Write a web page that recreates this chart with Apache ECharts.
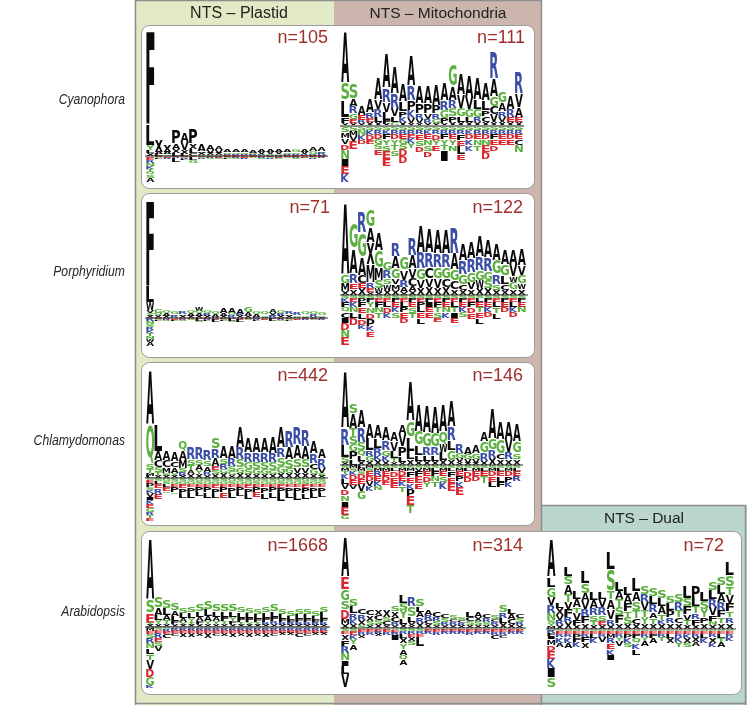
<!DOCTYPE html>
<html><head><meta charset="utf-8">
<script src="https://cdn.jsdelivr.net/npm/echarts@6/dist/echarts.min.js"></script>
<style>html,body{margin:0;padding:0;background:#fff}#c{width:747px;height:705px}</style>
</head><body><div id="c"></div>
<script>
// ---------- DATA (letter + stack height; up stacks listed top→baseline, down stacks baseline→bottom) ----------
const columnTitles = ['NTS – Plastid', 'NTS – Mitochondria', 'NTS – Dual'];
const organisms = ['Cyanophora', 'Porphyridium', 'Chlamydomonas', 'Arabidopsis'];
const sampleSizes = ['n=105', 'n=111', 'n=71', 'n=122', 'n=442', 'n=146', 'n=1668', 'n=314', 'n=72'];

const cyanoPlastidUp = ["F96 L20 Y5 L3 X3","X12 A2 L2","X7 A2 S2","P13 A6 X4 L3","A9 V8 X4 L2","P15 X6 L4 C3","A7 C2 X2 S1","A6 V3 X2 S1","A4 V3 X2 S1","A3 S2 R1 E1","A3 G2 R1 E1","A3 S2 R1 E1","A3 S1 R1 E1","A3 V2 R1 S1","A3 V2 S1 R1","A3 V2 G1 R1","A3 S2 R1 E1","G3 S2 R1 E1","A3 V2 R1 E1","A4 G3 R1 E1","A4 S2 R2 E1"];
const cyanoPlastidDown = ["S2 E2 R3 N3 K3 T3 Q3 S3 A4","E1 S1 L1","S1 E1 R1","E1 R1 L4","E1 S1 R1 L1","E1 L3 G3","E1 S1 R1","E1 R1 S1","R1 E1 S1","E1 S1 L1","E1 R1 S1","S1 E1 R1","E1 S1","E1 R1 S1","E1 S1 R1","R1 E1 S1","E1 S1","E1 R1 S1","S1 E1","E1 S1 R1","E1 R1"];

const cyanoMitoUp = ["A52 S17 L17 F6 X3","S16 A7 R7 G6 E4 X3","A10 E5 R3 X3","A13 R6 E4 X4","A22 V10 R8 L5 X4","A35 R14 V10 L8 F4 X2","A28 R15 V8 L6 G4","A18 L10 P6 K5 X4","A30 R15 P10 K8 V5 X3","A18 P10 R6 V4 X3","A18 P10 V6 R4 X3","A20 P8 R6 G4 X3","A18 R10 G8 P5 X3","G22 A14 R8 S8 P6 X4","A20 V14 G8 L6 X4","A22 V12 G8 L5 X4","A22 L10 G8 R5 X4","A18 L10 P6 C6 X4","R28 A18 G10 C8 V8 X4","G12 A8 R6 V5 X4","A14 R8 E5 X4","R22 V14 A10 E5 X4"];
const cyanoMitoDown = ["S6 M6 V6 D6 N9 I7 E8 K8","S5 M5 V5 E8","S4 N5 K5 D4","S4 K5 D5 E4","S4 R4 D5 G5 S5 E6","S4 K4 F5 Y6 S6 E8 E7","S4 R4 D5 Y6 T5 S6","S4 R4 E5 G5 S5 D7 D7","S4 R4 E4 K5 Y5","S4 R4 E6 S6 D6","S4 K4 E5 N6 S6 D6","S4 R4 D6 Y5 E6","S4 R4 F5 Y6 T5 I6 I5","S4 R4 E5 Y6 N6","S4 R4 F6 E6 L8 E6","S4 K4 D5 K6 K6","S4 R4 E5 N6 T6","S4 R4 D5 N6 E7 D7","S4 R4 F5 E6 D6","S4 R4 E5 E6","S4 R4 D5 E6","S4 R4 E5 C6 N7"];

const porphPlastidUp = ["F88 L16 W8 V3 Y3 X2","G4 Q3 X2","Q3 A2 X2","G3 Q2 R2","R3 Q2 X2","Q3 A2 X2","W4 Q3 A2 X2","Q3 R2 X2","Q3 A2 R1","A5 A3 X2","A5 Q3 R2","A5 R2 X2","G5 A4 X2","Q3 A2 R1","Q3 G2 X1","A4 X3 R2","Q3 R2 X2","R3 Q2 X2","R3 Q2 R1","Q3 G2 X1","Q3 R2 X1","G3 Q2 X1"];
const porphPlastidDown = ["R3 N3 S3 R3 K3 T3 N3 W3 A4","E1 S1 L1","E1 R1 S1","S1 E1 L1","E1 R1 S1","E1 S1","E1 L2 S1","E1 R1 L1","R1 E1 L2","E1 S1 L1","E1 L2 S1","R1 E1 L2","E1 S1","E1 R1 L1","S1 E1","E1 L2","E1 R1 S1","E1 S1 L1","S1 E1","E1 R1","E1 S1","E1 R1"];

const porphMitoUp = ["A73 G8 M8 X4","G27 A25 R10 E6 X6","R20 G25 A18 C8 E5 X7","G18 A15 X22 M18 R6 E4 X3","A18 G18 M12 S8 W5 X2","G8 R8 S6 W6 X5","R14 A12 G10 V6 M6 X5","G13 V10 R7 A5 X3","R18 A13 V10 C8 A5 X4","A28 R16 G12 V8 X7","A25 R15 C12 V8 X8","A24 R14 G12 V9 X7","A24 R14 G11 C9 X8","R26 A16 G12 C8 X6","A16 R14 G10 C6 X5","A16 R14 G10 V7 X6","A20 R14 G10 W8 X7","A18 R14 G9 S8 X7","A16 G14 R10 S6 X5","A15 G12 L8 C6 X5","A15 V12 W6 G7 X6","A16 V10 G8 W6 X6"];
const porphMitoDown = ["S3 K4 F5 Q5 C6 I5 D7 N7 E8","S3 E4 K5 N5 L6 D7","S3 P4 F5 E6 L6 D6 K4","S3 F4 Y5 N6 D6 P7 K5 E6","S3 E4 F5 N5 T6","S3 E4 L5 D6 K5","S3 F4 E5 K5 S6","S3 E4 L5 P5 E6 D5","S3 F4 E5 S6 T5","S3 E4 P5 L5 E6 L6","S3 F4 I5 E5 E6","S3 E4 F5 T5 S6 E4","S3 F4 E5 N5 K6","S3 E4 L5 T5 I6 E5","S3 F4 E5 K5 S5","S3 E4 F5 D6 E6","S3 L4 E5 T5 E6 L6","S3 F4 E5 K5 D5","S3 E4 L5 T6 L6","S3 F4 E5 D5","S3 E4 L5 K5 D5","S3 F4 E5 N5"];

const chlamyPlastidUp = ["A55 Q40 S5 T4 M3 L2","L27 A9 C7 S5 T3 X3","A9 C7 M6 S3 X2","A9 C6 A6 Y3 X2","Q10 A9 M8 S4 R4 X2","R12 S6 T5 A4 X4","R12 S6 A5 Y4 X4","R11 S6 A6 R3 X3","S12 R9 A8 E4 S4 X4","A12 S6 R5 G4 X5","A12 R8 S5 G4 X3","A20 R12 S8 G6 X5","A15 R10 G7 S5 X4","A15 R10 S7 G5 X4","A15 R10 S7 G5 X4","A16 R9 S8 G4 X4","A20 R10 S9 G7 X5","R16 A12 S9 G5 X5","R18 A14 S9 V6 X5","R17 A13 S8 V6 X5","A12 R10 C6 G5 X4","A10 R10 V5 S3 X2"];
const chlamyPlastidDown = ["S2 E3 P4 S3 K3 V4 I3 K4 E4 G4 R3 T3 E3","S3 L3 E4 R6 E5","G3 S3 L3 E4 S2","S3 G3 E3 P5 Q2","S3 G3 E4 P6 L4","S3 G3 E3 P6 L5","G3 S3 E3 P5 L4","S3 G3 E3 P5 L6","S3 G3 E4 P6 L4","S3 G3 E3 P5 E6","G3 S3 E3 P6 L5","S3 G3 E3 P5 L4","S3 G3 E4 P6 L5","G3 S3 E3 P5 E5","S3 G3 E3 P6 L6","S3 G3 E3 P5 L6","G3 S3 E4 P5 L8","S3 G3 E3 P6 L5","S3 G3 E3 P6 L7","G3 S3 E4 P5 L6","S3 G3 E3 P6 L5","S3 G3 E3 P6 L4"];

const chlamyMitoUp = ["A58 R17 L12 S5 X3","S10 A15 T8 S8 G7 P8 L6","A18 R15 S8 Q6 L5 X4","A15 L12 R6 G5 X4","A14 L10 R7 K5 X5","A14 R10 G6 K5 X4","A10 V10 L7 T4 X3","A10 V12 P10 L6 X3","A40 G16 L14 L8 X6","A28 G14 L10 L6 X4","A28 G15 R8 L6 X4","A27 G14 R8 L6 X4","A28 Q13 W8 L8 X5","A26 R14 L10 G10 X5","R10 G5 V4 X3","A7 G5 V4 X2","A8 G6 V4 X2","A10 G12 R8 X4","A30 G12 R8 X7","A18 G15 C5 X6","A18 V13 R7 X6","A18 G12 S6 X6"];
const chlamyMitoDown = ["S3 M3 T3 K5 L5 V5 D6 N6 I6 E8 G4","M3 S3 K4 D5 E5 V4","L3 M3 S3 D5 E5 V7 G8","M3 S3 E5 D5 V5 K5","S3 M3 R5 E5 K5 N4","S3 M3 E5 D5 E4","S3 L3 D6 E6 E5","S3 M3 D5 E5 K5 T6","S3 M3 F6 E6 K6 P7 E9 T8","S3 V3 F5 E7 E6","S3 M3 E5 D6 Y5","S3 L3 F5 N5 T6","S3 M3 E5 S6 K7","S3 L3 F6 E6 E8","S3 M3 E5 P5 K6 E8","S3 L3 D6 D5","S3 M3 E5 D5","S3 L3 E5 T7","S3 M3 D5 E6 L5","S3 L3 E5 L6 F5","S3 M3 D5 P6 K5","S3 L3 E5 R5"];

const arabPlastidUp = ["A62 S13 E10 T2 X2","S12 A7 L5 Y4 X3","S9 L7 A5 T4 X3","S7 A6 L5 F3 X3","S5 L5 A4 Y3 X2","S6 L6 Y4 T3 X2","S7 L6 A4 F3 X3","S8 L7 A5 Y3 X3","S7 L6 A4 Y3 X3","S7 L6 F4 T3 X3","S7 L6 Y4 F3 X3","S6 L6 F4 T3 X2","S5 L5 F4 Y3 X2","S5 L5 F3 T3 X2","S6 L6 F4 R3 X2","S7 L6 F4 R3 X3","S5 L5 F3 R3 X2","S5 L4 F3 R2 X2","S5 L5 F3 R3 X2","S5 L5 F3 R3 X2","S5 L4 F3 R2 X2","S6 L7 F3 R3 X2"];
const arabPlastidDown = ["M4 E3 S4 R5 N5 L6 T6 V9 D8 G8 K3","S3 E3 R5 E4 S4 V5","S2 R3 E2 C4","S2 R2 E2 C3","S2 R2 E2 X4","S2 R2 E2 X4","S2 R2 E2 X3","S2 R2 E2 X5","S2 R2 E2 C3","S2 R2 E2 X3","S2 R2 E2 X4","S2 R2 E2 X3","S2 R2 E2 X4","S2 R2 E2 X3","S2 R2 E2 X4","S2 R2 E2 C3","S2 R2 E2 X2","S2 R2 E2 X2","S2 R2 E2 C4","S2 R2 E2 C3","S2 R2 E2 X2","S2 R2 E2 X2"];

const arabMitoUp = ["A40 E12 G12 S8 D10 M5 X4","S7 L7 R6 K5 X4","C5 R6 X5 S3","C5 X6 S4 X3","X6 C5 S4 X4","X7 S4 C4 X3","S6 X6 C5 R3 X3","L8 S7 Y8 L6 X4","R9 S10 L6 V3 X3","S7 L6 A5 R6 X5","A6 R5 C4 X4","C5 R4 S4 X3","C4 S4 R3 X3","S4 C3 R3 X3","S3 C3 R3 X2","L5 C4 S4 X3","A5 X4 S4 X3","C4 R4 S3 X3","S4 C3 R3 X3","S7 R6 L5 X5","L5 A5 C5 X4","C4 S4 R3 X3"];
const arabMitoDown = ["S3 E3 X6 F6 R7 N7 I6 L8 V13","S3 E4 K4 Y5 A6","S2 E2 R3 X3","S2 E2 R3","S2 E2 R2 X2","S2 E2 R3","S2 E3 R2 I5","S3 R3 L4 X5 Y6 A6 Q5 A5","S3 R3 E3 X4 S4","S3 R3 E3 L9","S2 E2 R2","S2 E2 R3","S2 E2 R2","S2 E2 R2","S2 E2 R2","S2 E2 R3","S2 E2 R2","S2 E2 R2","S2 E2 R3 C4","S2 E2 R3 C3","S2 E2 R2","S2 E2 R2"];

const arabDualUp = ["A39 L10 G10 V8 R8 N7 S3 Y3 M3","L6 X7 V5 R5 X4","L10 S8 A10 T8 V7 F8 R5 X7","L8 A8 T6 V7 F5 X4","L12 S10 A8 V8 R7 F7 X6","L8 A8 R7 S6 T4 X4","L7 V8 R8 S6 E4 X4","L18 S22 T8 A10 V10 R6 X4","L10 A8 T8 S8 F8 X6","L8 A8 F8 T6 S7 X5","L14 A10 S9 T8 C6 X5","S8 R8 V8 T7 Y7 X5","S9 L8 R8 A6 T6 X5","S9 L8 A8 T6 K4 X5","S7 L7 P7 R6 X6","S8 R8 T7 C6 X6","L12 S8 F8 V6 T5 X4","P12 L8 T7 R6 F6 X4","L9 S8 Y8 P6 X6","S9 L9 R8 V8 F6 N4 X4","S9 L9 A8 R8 F7 T6 X6","L14 S12 T8 V8 F8 T6 R6 X6"];
const arabDualDown = ["S2 R2 F3 I3 M6 D6 E8 K9 I9 S10","S2 E3 R3 K6 A4","S2 E3 R3 K6 A5","S2 E3 P4 F4 K5","S2 E3 R3 F5 X6","S2 E3 L4 K5","S2 E3 R3 V5","S2 E3 M4 R5 E6 K6 I5","S2 E3 R3 Y4 V5","S2 E3 P4 K5 S4","S2 E3 F4 Q5 K6 L6","S2 E3 R3 Y4 A5","S2 E3 F4 A5","S2 E3 R3 T4","S2 E3 L4 X5","S2 E3 R3 K5 Y5","S2 E3 K4 X5 S4","S2 E3 R3 X5 A4","S2 E3 L4 K5","S2 E3 R3 X6 K4","S2 E3 L4 T4 A5","S2 E3 R3 K4"];

// ---------- LAYOUT ----------
const C_GREEN = '#e1e9c5', C_BROWN = '#cbb5ac', C_TEAL = '#bad6ce', C_FRAME = '#8e8e8e';
const C_BLACK = '#0a0a0a', C_GR = '#5cb03f', C_BL = '#3b4ea6', C_RD = '#d8272e';
function colorOf(ch){
  if ('GSTYQN'.indexOf(ch) >= 0) return C_GR;
  if ('KRH'.indexOf(ch) >= 0) return C_BL;
  if ('DE'.indexOf(ch) >= 0) return C_RD;
  return C_BLACK;
}
// box: [x0, x1, top, baseline, bottom]
const logos = [
  {up: cyanoPlastidUp,  down: cyanoPlastidDown,  box: [146, 326, 28, 156, 183], line: ['#222', 1.2]},
  {up: cyanoMitoUp,     down: cyanoMitoDown,     box: [341, 523, 30, 126, 182], line: ['#8a8a8a', 2]},
  {up: porphPlastidUp,  down: porphPlastidDown,  box: [146, 326, 198, 318, 350], line: ['#333', 1.2]},
  {up: porphMitoUp,     down: porphMitoDown,     box: [341, 526, 203, 295, 351], line: ['#333', 1.2]},
  {up: chlamyPlastidUp, down: chlamyPlastidDown, box: [146, 326, 370, 478, 521], line: ['#333', 1.2]},
  {up: chlamyMitoUp,    down: chlamyMitoDown,    box: [341, 521, 370, 465, 519], line: ['#333', 1.2]},
  {up: arabPlastidUp,   down: arabPlastidDown,   box: [146, 328, 537, 627, 688], line: ['#555', 1.5]},
  {up: arabMitoUp,      down: arabMitoDown,      box: [341, 524, 537, 628, 687], line: ['#333', 1.2]},
  {up: arabDualUp,      down: arabDualDown,      box: [547, 734, 538, 629, 687], line: ['#333', 1.2]}
];

const FONT = 'bold 40px "DejaVu Sans", "Liberation Sans", Arial, sans-serif';
const mctx = document.createElement('canvas').getContext('2d');
mctx.font = FONT; mctx.textAlign = 'center'; mctx.textBaseline = 'middle';
const metr = {};
function metric(ch){
  if (!metr[ch]) {
    const m = mctx.measureText(ch);
    metr[ch] = {l: m.actualBoundingBoxLeft, r: m.actualBoundingBoxRight, a: m.actualBoundingBoxAscent, d: m.actualBoundingBoxDescent};
  }
  return metr[ch];
}
function parse(s){ return s.trim().split(/\s+/).filter(Boolean).map(t => ({ch: t[0], h: parseFloat(t.slice(1))})); }
function letterEl(ch, cx, cy, w, h){
  const m = metric(ch);
  const iw = Math.max(m.l + m.r, 1), ih = Math.max(m.a + m.d, 1);
  return {type: 'text', x: cx, y: cy, scaleX: w / iw, scaleY: Math.max(h, 0.01) / ih, silent: true,
    style: {text: ch, x: -(m.r - m.l) / 2, y: -(m.d - m.a) / 2, fill: colorOf(ch), font: FONT,
      textAlign: 'center', textVerticalAlign: 'middle', align: 'center', verticalAlign: 'middle'}};
}
function makeRender(upArr, downArr){
  return function(params, api){
    const i = api.value(0);
    const pL = api.coord([i, 0]), pR = api.coord([i + 1, 0]);
    const cw = (pR[0] - pL[0]) * 0.96, cx = (pL[0] + pR[0]) / 2;
    const children = [];
    const up = parse(upArr[i]);
    let cur = up.reduce((s, t) => s + t.h, 0);
    up.forEach(t => {
      const y1 = api.coord([i, cur])[1], y2 = api.coord([i, cur - t.h])[1];
      children.push(letterEl(t.ch, cx, (y1 + y2) / 2, cw, (y2 - y1) * 0.97));
      cur -= t.h;
    });
    const dn = parse(downArr[i]);
    cur = 0;
    dn.forEach(t => {
      const y1 = api.coord([i, cur])[1], y2 = api.coord([i, cur - t.h])[1];
      children.push(letterEl(t.ch, cx, (y1 + y2) / 2, cw, (y2 - y1) * 0.97));
      cur -= t.h;
    });
    return {type: 'group', children};
  };
}

const grids = [], xAxes = [], yAxes = [], series = [];
logos.forEach((lg, k) => {
  const [x0, x1, top, base, bot] = lg.box;
  const n = lg.up.length;
  grids.push({left: x0, top: top, width: x1 - x0, height: bot - top, containLabel: false});
  xAxes.push({gridIndex: k, type: 'value', min: 0, max: n, show: false});
  yAxes.push({gridIndex: k, type: 'value', min: -(bot - base), max: base - top, show: false});
  series.push({type: 'custom', xAxisIndex: k, yAxisIndex: k, z: 2, silent: true, clip: false,
    data: lg.up.map((_, i) => [i]), renderItem: makeRender(lg.up, lg.down)});
  series.push({type: 'line', xAxisIndex: k, yAxisIndex: k, z: 3, silent: true, clip: false,
    symbol: 'none', data: [[-0.5, 0], [n + 0.5, 0]], lineStyle: {color: lg.line[0], width: lg.line[1]}});
});

// ---------- DECORATION ----------
const panels = [[141, 25, 393, 163], [141, 193, 393, 164], [141, 362, 393, 163], [141, 531, 600, 163]];
const nPos = [[328, 38], [525, 38], [330, 208], [523, 208], [328, 376], [523, 376], [328, 546], [523, 546], [724, 546]];
const labelY = [100, 272, 441, 612];
const LBL_FONT = 'italic 14.5px "Liberation Sans", Arial';
const graphic = [
  {type: 'rect', z: -10, shape: {x: 135, y: 0, width: 199, height: 705}, style: {fill: C_GREEN}},
  {type: 'rect', z: -10, shape: {x: 334, y: 0, width: 208, height: 705}, style: {fill: C_BROWN}},
  {type: 'rect', z: -10, shape: {x: 542, y: 505, width: 205, height: 200}, style: {fill: C_TEAL}},
  {type: 'polyline', z: -9, shape: {points: [[135.5, 705], [135.5, 0.5], [541.5, 0.5], [541.5, 505.5], [745.5, 505.5], [745.5, 705]]}, style: {stroke: C_FRAME, lineWidth: 1.5, fill: null}},
  {type: 'line', z: -9, shape: {x1: 541.5, y1: 505, x2: 541.5, y2: 705}, style: {stroke: C_FRAME, lineWidth: 1.5}},
  {type: 'line', z: -9, shape: {x1: 135, y1: 703.5, x2: 746, y2: 703.5}, style: {stroke: C_FRAME, lineWidth: 1.5}},
  {type: 'text', z: 5, x: 239, y: 14, style: {text: columnTitles[0], font: '16px "Liberation Sans", Arial', fill: '#222', align: 'center', verticalAlign: 'middle'}},
  {type: 'text', z: 5, x: 438, y: 14, style: {text: columnTitles[1], font: '15.5px "Liberation Sans", Arial', fill: '#222', align: 'center', verticalAlign: 'middle'}},
  {type: 'text', z: 5, x: 644, y: 519, style: {text: columnTitles[2], font: '15.5px "Liberation Sans", Arial', fill: '#222', align: 'center', verticalAlign: 'middle'}}
];
panels.forEach(p => graphic.push({type: 'rect', z: -5, shape: {x: p[0] + 0.5, y: p[1] + 0.5, width: p[2], height: p[3], r: 8}, style: {fill: '#fff', stroke: '#9c9c9c', lineWidth: 1}}));
sampleSizes.forEach((s, i) => graphic.push({type: 'text', z: 5, x: nPos[i][0], y: nPos[i][1], style: {text: s, font: '18px "Liberation Sans", Arial', fill: '#9e2f2b', align: 'right', verticalAlign: 'middle'}}));
organisms.forEach((s, i) => graphic.push({type: 'text', z: 5, x: 125, y: labelY[i], scaleX: 0.84, style: {text: s, x: 0, y: 0, font: LBL_FONT, fill: '#262626', align: 'right', verticalAlign: 'middle'}}));

const chart = echarts.init(document.getElementById('c'), null, {renderer: 'canvas'});
chart.setOption({animation: false, backgroundColor: '#fff', graphic: graphic, grid: grids, xAxis: xAxes, yAxis: yAxes, series: series});
</script>
</body></html>
